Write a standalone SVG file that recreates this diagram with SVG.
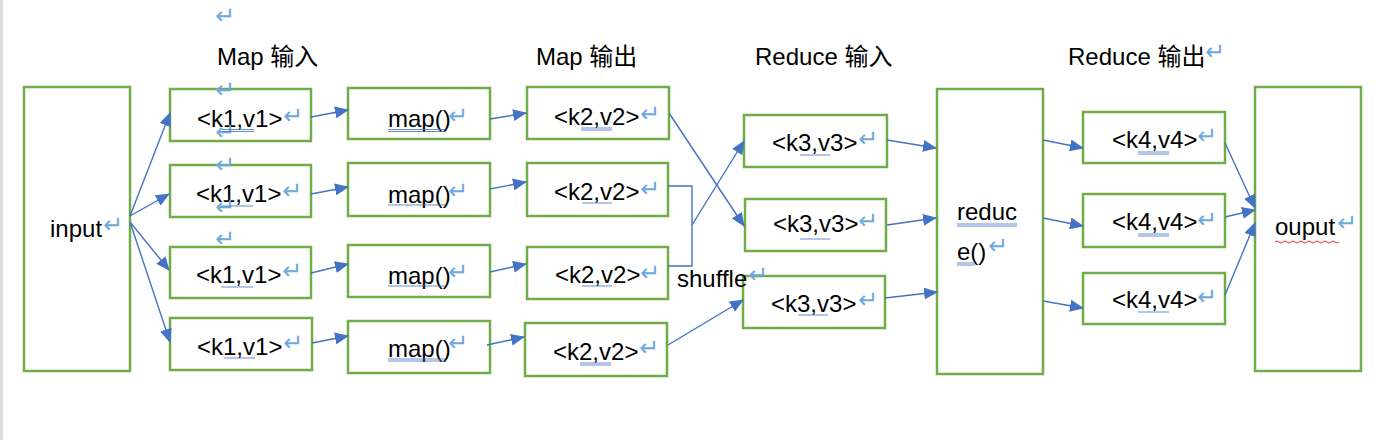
<svg xmlns="http://www.w3.org/2000/svg" width="1400" height="440" viewBox="0 0 1400 440">
<defs>
<style>
.box{fill:#fff;stroke:#70AD47;stroke-width:2.5}
.t{font-family:"Liberation Sans","Noto Sans CJK SC",sans-serif;font-size:24px;fill:#000}
.p{font-family:"DejaVu Sans",sans-serif;font-size:24px;fill:#6FA8DC}
.c{fill:none;stroke:#4472C4;stroke-width:1.4}
.ul{stroke:#4472C4;stroke-width:1;fill:none;opacity:.8}
</style>
<marker id="ah" markerUnits="userSpaceOnUse" markerWidth="14" markerHeight="12" refX="13" refY="6" orient="auto">
<path d="M0,0 L14,6 L0,12 Z" fill="#4472C4"/>
</marker>
</defs>
<rect width="1400" height="440" fill="#fff"/>
<rect x="0" y="0" width="3" height="440" fill="#dcdcdc"/>

<g id="headers">
<text class="t" x="217" y="65">Map 输入</text>
<text class="t" x="536" y="65">Map 输出</text>
<text class="t" x="755" y="65">Reduce 输入</text>
<text class="t" x="1068" y="65">Reduce 输出</text>
</g>

<g id="input"><rect class="box" x="24" y="87" width="106" height="284"/><text class="t" x="50" y="237">input</text></g>

<g id="k1a"><rect class="box" x="170" y="89" width="141" height="52"/><text class="t" x="197" y="127">&lt;k1,v1&gt;</text></g>
<g id="k1b"><rect class="box" x="170" y="165" width="141" height="52"/><text class="t" x="196" y="202">&lt;k1,v1&gt;</text></g>
<g id="k1c"><rect class="box" x="170" y="247" width="141" height="51"/><text class="t" x="196" y="283">&lt;k1,v1&gt;</text></g>
<g id="k1d"><rect class="box" x="170" y="318" width="142" height="52"/><text class="t" x="197" y="355">&lt;k1,v1&gt;</text></g>

<g id="map1"><rect class="box" x="348" y="88" width="142" height="51"/><text class="t" x="388" y="127">map()</text></g>
<g id="map2"><rect class="box" x="348" y="163" width="142" height="53"/><text class="t" x="388" y="203">map()</text></g>
<g id="map3"><rect class="box" x="348" y="245" width="142" height="52"/><text class="t" x="388" y="284">map()</text></g>
<g id="map4"><rect class="box" x="348" y="321" width="142" height="52"/><text class="t" x="388" y="357">map()</text></g>

<g id="k2a"><rect class="box" x="527" y="87" width="142" height="52"/><text class="t" x="554" y="125">&lt;k2,v2&gt;</text></g>
<g id="k2b"><rect class="box" x="527" y="163" width="141" height="53"/><text class="t" x="554" y="200">&lt;k2,v2&gt;</text></g>
<g id="k2c"><rect class="box" x="527" y="247" width="141" height="52"/><text class="t" x="555" y="283">&lt;k2,v2&gt;</text></g>
<g id="k2d"><rect class="box" x="525" y="323" width="142" height="53"/><text class="t" x="553" y="360">&lt;k2,v2&gt;</text></g>

<g id="k3a"><rect class="box" x="744" y="115" width="143" height="52"/><text class="t" x="772" y="151">&lt;k3,v3&gt;</text></g>
<g id="k3b"><rect class="box" x="745" y="199" width="141" height="52"/><text class="t" x="773" y="232">&lt;k3,v3&gt;</text></g>
<g id="k3c"><rect class="box" x="743" y="276" width="142" height="52"/><text class="t" x="771" y="312">&lt;k3,v3&gt;</text></g>

<g id="reduce"><rect class="box" x="937" y="89" width="106" height="285"/><text class="t" x="957" y="220">reduc</text><text class="t" x="957" y="260">e()</text></g>

<g id="k4a"><rect class="box" x="1083" y="112" width="142" height="51"/><text class="t" x="1112" y="148">&lt;k4,v4&gt;</text></g>
<g id="k4b"><rect class="box" x="1083" y="194" width="142" height="53"/><text class="t" x="1112" y="230">&lt;k4,v4&gt;</text></g>
<g id="k4c"><rect class="box" x="1083" y="273" width="142" height="51"/><text class="t" x="1112" y="308">&lt;k4,v4&gt;</text></g>

<g id="output"><rect class="box" x="1255" y="87" width="106" height="284"/><text class="t" x="1275" y="235">ouput</text></g>

<g id="shuffle"><text class="t" x="677" y="287">shuffle</text></g>

<g id="connectors">
<path class="c" d="M130,216 L170,113" marker-end="url(#ah)"/>
<path class="c" d="M130,216 L169,194" marker-end="url(#ah)"/>
<path class="c" d="M130,222 L169,270" marker-end="url(#ah)"/>
<path class="c" d="M130,222 L170,342" marker-end="url(#ah)"/>
<path class="c" d="M311,117 L348,110" marker-end="url(#ah)"/>
<path class="c" d="M311,194 L348,187" marker-end="url(#ah)"/>
<path class="c" d="M311,273 L348,264" marker-end="url(#ah)"/>
<path class="c" d="M312,343 L348,336" marker-end="url(#ah)"/>
<path class="c" d="M490,119 L526,113" marker-end="url(#ah)"/>
<path class="c" d="M490,189 L526,182" marker-end="url(#ah)"/>
<path class="c" d="M490,272 L526,264" marker-end="url(#ah)"/>
<path class="c" d="M487,345 L524,337" marker-end="url(#ah)"/>
<path class="c" d="M669,113 L744,226" marker-end="url(#ah)"/>
<path class="c" d="M668,186 L692,186 L692,266 L668,266"/>
<path class="c" d="M692,225 L744,141" marker-end="url(#ah)"/>
<path class="c" d="M668,345 L743,300" marker-end="url(#ah)"/>
<path class="c" d="M887,140 L936,148" marker-end="url(#ah)"/>
<path class="c" d="M887,225 L936,218" marker-end="url(#ah)"/>
<path class="c" d="M885,298 L937,292" marker-end="url(#ah)"/>
<path class="c" d="M1043,140 L1083,148" marker-end="url(#ah)"/>
<path class="c" d="M1043,218 L1083,226" marker-end="url(#ah)"/>
<path class="c" d="M1043,301 L1083,308" marker-end="url(#ah)"/>
<path class="c" d="M1225,143 L1255,208" marker-end="url(#ah)"/>
<path class="c" d="M1225,217 L1255,210" marker-end="url(#ah)"/>
<path class="c" d="M1225,295 L1255,223" marker-end="url(#ah)"/>
</g>

<g id="marks">
<text class="p" x="215" y="24">↵</text>
<text class="p" x="1205" y="60">↵</text>
<text class="p" x="215" y="98">↵</text>
<text class="p" x="215" y="140">↵</text>
<text class="p" x="215" y="173">↵</text>
<text class="p" x="215" y="215">↵</text>
<text class="p" x="215" y="247">↵</text>
<text class="p" x="283" y="124">↵</text>
<text class="p" x="448" y="124">↵</text>
<text class="p" x="640" y="122">↵</text>
<text class="p" x="858" y="147">↵</text>
<text class="p" x="1197" y="144">↵</text>
<text class="p" x="282" y="199">↵</text>
<text class="p" x="448" y="199">↵</text>
<text class="p" x="640" y="197">↵</text>
<text class="p" x="858" y="229">↵</text>
<text class="p" x="1197" y="228">↵</text>
<text class="p" x="103" y="233">↵</text>
<text class="p" x="988" y="254">↵</text>
<text class="p" x="1337" y="231">↵</text>
<text class="p" x="282" y="279">↵</text>
<text class="p" x="448" y="280">↵</text>
<text class="p" x="640" y="281">↵</text>
<text class="p" x="748" y="283">↵</text>
<text class="p" x="858" y="308">↵</text>
<text class="p" x="1197" y="305">↵</text>
<text class="p" x="283" y="351">↵</text>
<text class="p" x="448" y="351">↵</text>
<text class="p" x="639" y="356">↵</text>

<path class="ul" d="M222,129.5 H254 M222,131.5 H254 M221,206 H253 M221,287 H253 M224,358 H255"/>
<path class="ul" d="M388,129.5 H445 M388,131.5 H445 M388,205 H445 M388,286 H445 M388,359 H445 M388,361 H445"/>
<path class="ul" d="M581,128 H612 M581,130 H612 M582,203 H612 M582,286 H612 M580,363 H611 M580,365 H611"/>
<path class="ul" d="M800,155 H830 M800,239 H830 M798,315 H828"/>
<path class="ul" d="M1138,152 H1169 M1138,154 H1169 M1138,234 H1169 M1138,236 H1169 M1138,312 H1169"/>
<path class="ul" d="M957,224 H1017 M957,226 H1017 M957,263 H975 M957,265 H975"/>
<path d="M1275,242 q2,-2 4,0 t4,0 t4,0 t4,0 t4,0 t4,0 t4,0 t4,0 t4,0 t4,0 t4,0 t4,0 t4,0 t4,0 t4,0 t4,0" fill="none" stroke="#E03030" stroke-width="1"/>
</g>
</svg>
